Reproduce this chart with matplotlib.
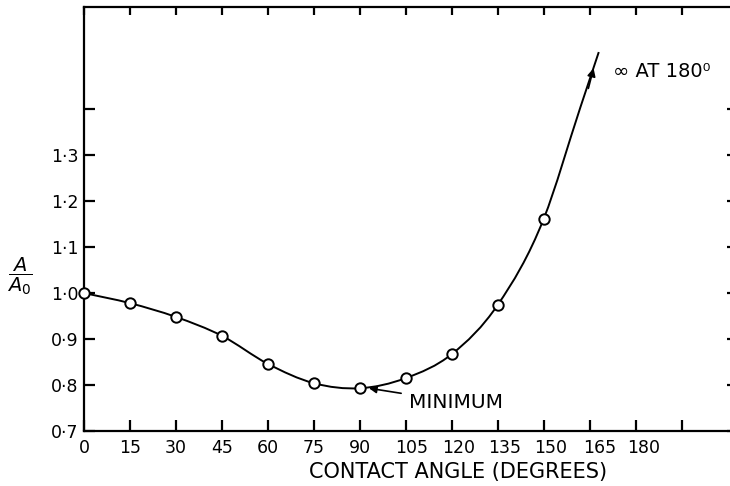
import numpy as np
import matplotlib
matplotlib.use("Agg")
import matplotlib.pyplot as plt
from matplotlib.path import Path
from matplotlib.patches import PathPatch
from matplotlib.transforms import ScaledTranslation

# === Data ===
angle = [0, 15, 30, 45, 60, 75, 90, 105, 120, 135, 150]
ratio = [1.000, 0.978, 0.948, 0.907, 0.846, 0.804, 0.793, 0.815, 0.867, 0.974, 1.161]

# curve keeps rising past the last point (goes to infinity at 180)
tail_angle = [162, 168]
tail_ratio = [1.404, 1.524]

xticks = [0, 15, 30, 45, 60, 75, 90, 105, 120, 135, 150, 165, 180, 195]
xlabels = ["0", "15", "30", "45", "60", "75", "90", "105", "120", "135", "150", "165", "180", ""]
yticks = [0.7, 0.8, 0.9, 1.0, 1.1, 1.2, 1.3, 1.4]
ylabels = ["0·7", "0·8", "0·9", "1·0", "1·1", "1·2", "1·3", ""]

# hand lettering drifts right of the ticks on the original (points)
label_shift = [0, 0, 0, 0, 0, 0, 0, 4, 5, 5, 5, 7, 6, 0]


def smooth_path(xs, ys):
    # Hermite curve y(x) through the points, given to matplotlib as cubic Beziers
    x = np.asarray(xs, float)
    y = np.asarray(ys, float)
    n = len(x)
    m = np.zeros(n)
    for i in range(1, n - 1):
        h0, h1 = x[i] - x[i - 1], x[i + 1] - x[i]
        m[i] = (h0 ** 2 * y[i + 1] - h1 ** 2 * y[i - 1] + (h1 ** 2 - h0 ** 2) * y[i]) / (h0 * h1 * (h0 + h1))
    m[0] = (y[1] - y[0]) / (x[1] - x[0])
    m[-1] = (y[-1] - y[-2]) / (x[-1] - x[-2])
    verts = [(x[0], y[0])]
    codes = [Path.MOVETO]
    for i in range(n - 1):
        h = x[i + 1] - x[i]
        verts += [(x[i] + h / 3, y[i] + m[i] * h / 3),
                  (x[i + 1] - h / 3, y[i + 1] - m[i + 1] * h / 3),
                  (x[i + 1], y[i + 1])]
        codes += [Path.CURVE4] * 3
    return Path(verts, codes)


plt.rcParams["font.family"] = "DejaVu Sans"

fig = plt.figure(figsize=(7.3, 4.86), dpi=100)
ax = fig.add_axes([84 / 730, 1 - 431 / 486, 646 / 730 + 0.002, 424 / 486])
ax.set_xlim(0, 211.3)
ax.set_ylim(0.7, 1.622)

# smooth curve + open circles
curve = smooth_path(angle + tail_angle, ratio + tail_ratio)
ax.add_patch(PathPatch(curve, facecolor="none", edgecolor="black", lw=1.4, zorder=3))
ax.plot(angle, ratio, "o", mfc="white", mec="black", ms=7.5, mew=1.4,
        clip_on=False, zorder=5)

# arrow on the rising end of the curve
ax.annotate("", xy=(166.3, 1.489), xytext=(164.6, 1.445),
            arrowprops=dict(arrowstyle="-|>", color="black", lw=1.2,
                            mutation_scale=12, shrinkA=0, shrinkB=0))
ax.text(172.5, 1.482, "∞ AT 180⁰", fontsize=14, va="center", ha="left")

# minimum marker
ax.annotate("MINIMUM", xy=(93.0, 0.793), xytext=(106.2, 0.763),
            fontsize=14.5, va="center", ha="left",
            arrowprops=dict(arrowstyle="-|>", color="black", lw=1.2,
                            mutation_scale=11, shrinkA=4, shrinkB=0))

# axes frame and ticks
for s in ax.spines.values():
    s.set_linewidth(1.6)

ax.set_xticks(xticks)
ax.set_xticklabels(xlabels)
ax.set_yticks(yticks)
ax.set_yticklabels(ylabels)
ax.tick_params(axis="both", direction="in", width=1.6, labelsize=12.5,
               top=True, right=True)
ax.tick_params(axis="x", length=8, pad=6)
ax.tick_params(axis="y", length=8, pad=4)
for t, dx in zip(ax.xaxis.get_major_ticks(), label_shift):
    t.tick2line.set_markersize(6)
    t.label1.set_transform(t.label1.get_transform()
                           + ScaledTranslation(dx / 72, 0, fig.dpi_scale_trans))
for t in ax.yaxis.get_major_ticks():
    t.tick2line.set_markersize(3)

fig.text(20 / 730, 1 - 276 / 486, r"$\dfrac{A}{A_0}$", fontsize=14,
         ha="center", va="center")
fig.text(458 / 730, 1 - 472 / 486, "CONTACT ANGLE (DEGREES)", fontsize=15,
         ha="center", va="center")

fig.savefig("out.png", dpi=100)
